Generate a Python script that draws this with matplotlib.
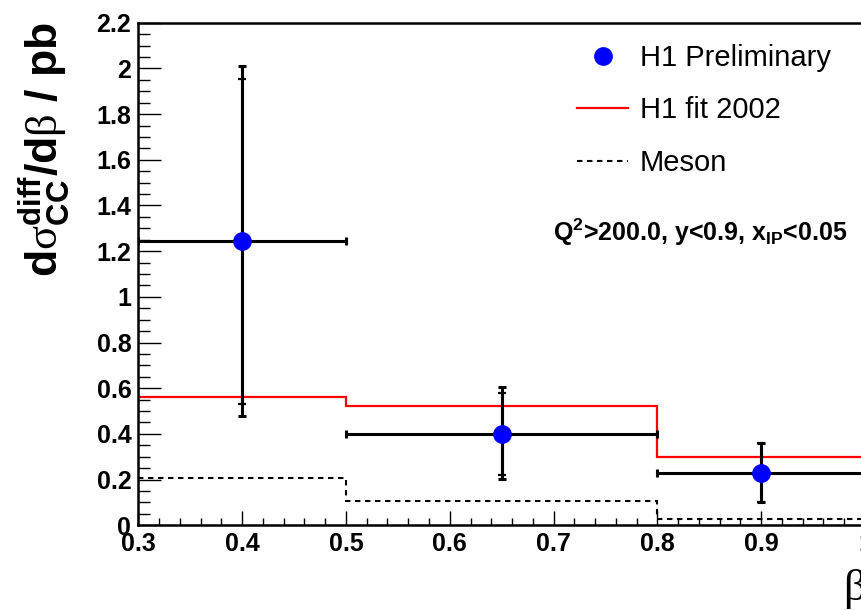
import matplotlib
matplotlib.use('Agg')
import matplotlib.pyplot as plt
import numpy as np
from matplotlib.lines import Line2D
from matplotlib.ticker import MultipleLocator, FuncFormatter

# ---- data ----
bin_edges = [0.3, 0.5, 0.8, 1.0]
beta = [0.4, 0.65, 0.9]
xsec = [1.245, 0.401, 0.229]
err_tot_up = [0.765, 0.204, 0.131]
err_tot_dn = [0.767, 0.200, 0.127]
err_stat_up = [0.710, 0.179, 0.131]
err_stat_dn = [0.715, 0.179, 0.127]
fit2002 = [0.561, 0.521, 0.298]
meson = [0.207, 0.106, 0.026]
legend_labels = ['H1 Preliminary', 'H1 fit 2002', 'Meson']
annotation = r'Q$^{\mathbf{2}}$>200.0, y<0.9, x$_{\mathbf{IP}}$<0.05'

plt.rcParams['font.family'] = ['Liberation Sans', 'DejaVu Sans']
plt.rcParams['mathtext.fontset'] = 'custom'
plt.rcParams['mathtext.bf'] = 'Liberation Sans:bold'
plt.rcParams['mathtext.rm'] = 'Liberation Serif'
plt.rcParams['mathtext.it'] = 'Liberation Sans:italic'
plt.rcParams['mathtext.sf'] = 'Liberation Sans'

W, H = 862, 610
fig = plt.figure(figsize=(W / 100, H / 100), dpi=100)
left_px, right_px, top_px, bot_px = 138.3, 865.0, 22.7, 525.3
ax = fig.add_axes([left_px / W, 1 - bot_px / H, (right_px - left_px) / W, (bot_px - top_px) / H])

edges = np.array(bin_edges)
ax.stairs(fit2002, edges, baseline=None, color='#ff0000', lw=1.6, zorder=2)
ax.stairs(meson, edges, baseline=None, color='black', lw=1.5,
          linestyle=(0, (2.6, 2.2)), zorder=2)

b = np.array(beta)
xerr = np.vstack([b - edges[:-1], edges[1:] - b])
ax.errorbar(beta, xsec, xerr=xerr, yerr=[err_tot_dn, err_tot_up], fmt='none',
            ecolor='black', elinewidth=2.2, capsize=2.6, capthick=2.2, zorder=3)
ax.errorbar(beta, xsec, yerr=[err_stat_dn, err_stat_up], fmt='none',
            ecolor='black', elinewidth=2.2, capsize=2.6, capthick=1.6, zorder=3)
pts, = ax.plot(beta, xsec, 'o', color='#0000ff', ms=12.5, mec='#0000ff', zorder=4, ls='none')

ax.set_xlim(0.3, 1.0)
ax.set_ylim(0, 2.2)

ax.xaxis.set_major_locator(MultipleLocator(0.1))
ax.xaxis.set_minor_locator(MultipleLocator(0.02))
ax.yaxis.set_major_locator(MultipleLocator(0.2))
ax.yaxis.set_minor_locator(MultipleLocator(0.05))
fmt = FuncFormatter(lambda v, p: ('%.1f' % v).rstrip('0').rstrip('.') if abs(v) > 1e-9 else '0')
ax.xaxis.set_major_formatter(fmt)
ax.yaxis.set_major_formatter(fmt)

ax.tick_params(axis='both', which='both', direction='in', top=False, right=False,
               width=1.0, color='black')
ax.tick_params(axis='y', which='major', length=16.5, pad=5)
ax.tick_params(axis='y', which='minor', length=8.5)
ax.tick_params(axis='x', which='major', length=10, pad=5)
ax.tick_params(axis='x', which='minor', length=5)
for lab in ax.get_xticklabels() + ax.get_yticklabels():
    lab.set_fontsize(18)
    lab.set_fontweight('bold')

for s in ['left', 'bottom', 'top']:
    ax.spines[s].set_linewidth(1.8)
ax.spines['right'].set_visible(False)

# y label
fig.text(45 / W, 1 - 22 / H,
         r'$\mathbf{d}\mathrm{\sigma}^{\mathbf{diff}}_{\mathbf{CC}}\mathbf{/d}\mathrm{\beta}\mathbf{\ /\ pb}$',
         rotation=90, ha='center', va='top', fontsize=32)
# x label
fig.text(866 / W, 1 - 600 / H, r'$\mathrm{\beta}$', ha='right', va='baseline', fontsize=32)

# annotation
fig.text(553 / W, 1 - 232 / H, annotation, ha='left', va='center', fontsize=18, fontweight='bold')

# legend
h_fit = Line2D([], [], color='#ff0000', lw=1.6)
h_mes = Line2D([], [], color='black', lw=1.5, linestyle=(0, (2.6, 2.2)))
leg = ax.legend([pts, h_fit, h_mes], legend_labels, loc='upper left',
                bbox_to_anchor=(577 / W, 1 - 44 / H), bbox_transform=fig.transFigure,
                frameon=False, fontsize=21, handlelength=1.75, handletextpad=0.4,
                labelspacing=0.84, borderpad=0, borderaxespad=0, numpoints=1,
                markerscale=1.0)

fig.savefig('out.png', dpi=100)
